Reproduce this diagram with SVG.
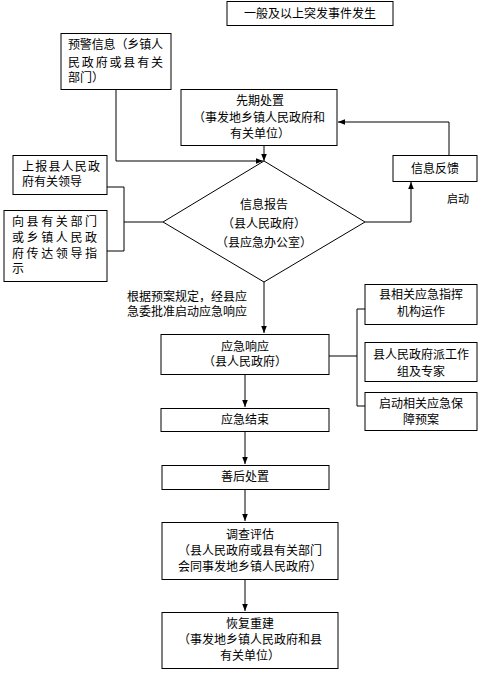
<svg xmlns="http://www.w3.org/2000/svg" width="480" height="679" viewBox="0 0 480 679">
<style>
.b{fill:#fff;stroke:#000;stroke-width:1}
.t{font-family:"Liberation Sans","Noto Sans CJK SC",sans-serif;font-size:12px;fill:#000}
.m{text-anchor:middle}
.c{fill:none;stroke:#000;stroke-width:1}
</style>
<defs>
<marker id="ah" viewBox="0 0 10 10" refX="10" refY="5" markerWidth="7" markerHeight="7" orient="auto" markerUnits="userSpaceOnUse"><path d="M0,1 L10,5 L0,9 z" fill="#000"/></marker>
</defs>
<rect width="480" height="679" fill="#fff"/>
<g id="connectors">
<path class="c" d="M116,89 V161 H263" marker-end="url(#ah)"/>
<path class="c" d="M264,145 V161" marker-end="url(#ah)"/>
<path class="c" d="M449,155 V122 H338" marker-end="url(#ah)"/>
<path class="c" d="M365,222 H411 V182" marker-end="url(#ah)"/>
<path class="c" d="M107,187 H124 V251 H107 M124,222 H163"/>
<path class="c" d="M264,282 V333" marker-end="url(#ah)"/>
<path class="c" d="M329,356 H357 M365,309 H357 V406 H365"/>
<path class="c" d="M245,374 V407" marker-end="url(#ah)"/>
<path class="c" d="M245,431 V464" marker-end="url(#ah)"/>
<path class="c" d="M245,489 V521" marker-end="url(#ah)"/>
<path class="c" d="M245,579 V611" marker-end="url(#ah)"/>
</g>
<g id="start">
<rect class="b" x="227" y="1.5" width="166" height="24"/>
<text class="t m" x="310" y="18">一般及以上突发事件发生</text>
</g>
<g id="warning">
<rect class="b" x="61" y="33.5" width="110" height="56"/>
<text class="t" x="68" y="49" textLength="95" lengthAdjust="spacing">预警信息（乡镇人</text>
<text class="t" x="68" y="67" textLength="95" lengthAdjust="spacing">民政府或县有关</text>
<text class="t" x="68" y="82">部门）</text>
</g>
<g id="initial">
<rect class="b" x="181" y="89.5" width="156" height="56"/>
<text class="t m" x="260" y="105">先期处置</text>
<text class="t m" x="259" y="122">（事发地乡镇人民政府和</text>
<text class="t m" x="260" y="138">有关单位）</text>
</g>
<g id="feedback">
<rect class="b" x="393" y="155.5" width="84" height="26"/>
<text class="t m" x="435" y="173">信息反馈</text>
</g>
<text class="t" x="447" y="203" style="font-size:11px">启动</text>
<g id="report">
<polygon class="b" points="264,161 365,222 264,282 163,222"/>
<text class="t m" x="264" y="209">信息报告</text>
<text class="t m" x="264" y="228">（县人民政府）</text>
<text class="t m" x="264" y="247">（县应急办公室）</text>
</g>
<g id="leader">
<rect class="b" x="13" y="155.5" width="94" height="39"/>
<text class="t" x="22" y="171" textLength="78" lengthAdjust="spacing">上报县人民政</text>
<text class="t" x="22" y="186">府有关领导</text>
</g>
<g id="relay">
<rect class="b" x="4" y="210.5" width="103" height="71"/>
<text class="t" x="12" y="226" textLength="85" lengthAdjust="spacing">向县有关部门</text>
<text class="t" x="12" y="242" textLength="85" lengthAdjust="spacing">或乡镇人民政</text>
<text class="t" x="12" y="258" textLength="85" lengthAdjust="spacing">府传达领导指</text>
<text class="t" x="12" y="273">示</text>
</g>
<text class="t" x="127" y="301">根据预案规定，经县应</text>
<text class="t" x="127" y="316">急委批准启动应急响应</text>
<g id="response">
<rect class="b" x="161" y="334.5" width="168" height="40"/>
<text class="t m" x="245" y="351">应急响应</text>
<text class="t m" x="245" y="366">（县人民政府）</text>
</g>
<g id="command">
<rect class="b" x="365" y="284.5" width="112" height="40"/>
<text class="t m" x="421" y="299">县相关应急指挥</text>
<text class="t m" x="421" y="316">机构运作</text>
</g>
<g id="team">
<rect class="b" x="365" y="342.5" width="112" height="39"/>
<text class="t m" x="421" y="359">县人民政府派工作</text>
<text class="t m" x="421" y="376">组及专家</text>
</g>
<g id="plan">
<rect class="b" x="365" y="392.5" width="112" height="38"/>
<text class="t m" x="421" y="408">启动相关应急保</text>
<text class="t m" x="421" y="424">障预案</text>
</g>
<g id="end">
<rect class="b" x="161" y="408.5" width="168" height="23"/>
<text class="t m" x="245" y="424">应急结束</text>
</g>
<g id="aftermath">
<rect class="b" x="162" y="465.5" width="167" height="24"/>
<text class="t m" x="245" y="481">善后处置</text>
</g>
<g id="investigate">
<rect class="b" x="162" y="522.5" width="176" height="57"/>
<text class="t m" x="250" y="539">调查评估</text>
<text class="t m" x="250" y="555">（县人民政府或县有关部门</text>
<text class="t m" x="250" y="571">会同事发地乡镇人民政府）</text>
</g>
<g id="rebuild">
<rect class="b" x="162" y="612.5" width="176" height="56"/>
<text class="t m" x="250" y="628">恢复重建</text>
<text class="t m" x="250" y="644">（事发地乡镇人民政府和县</text>
<text class="t m" x="250" y="660">有关单位）</text>
</g>
</svg>
